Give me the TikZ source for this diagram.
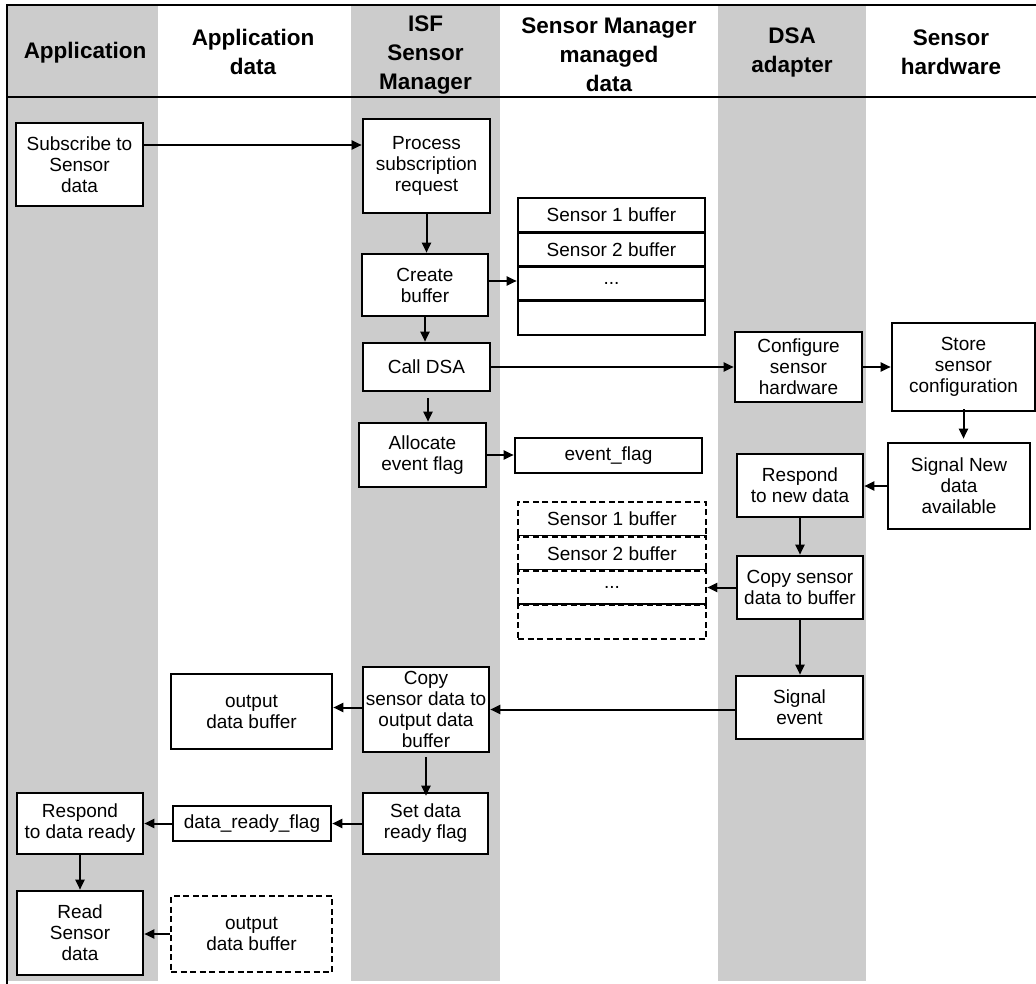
\documentclass[tikz,border=0pt]{standalone}
\usepackage{fontspec}
\setmainfont{Liberation Sans}
\usetikzlibrary{arrows.meta}
\definecolor{lanegrey}{HTML}{CCCCCC}

\begin{document}
\begin{tikzpicture}[x=1pt,y=-1pt,
  box/.style 2 args={draw, line width=2.6pt, fill=white, inner sep=0pt, align=center,
    minimum width=#1pt, minimum height=#2pt, font=\fontsize{19}{21}\selectfont},
  dbox/.style 2 args={box={#1}{#2}, dash pattern=on 6pt off 3.5pt},
  hdr/.style={align=center, font=\fontsize{22.5}{29}\selectfont\bfseries},
  arr/.style={line width=2pt, -{Triangle[length=10pt,width=9pt]}},
  rule/.style={line width=2.2pt}]

\useasboundingbox (0,0) rectangle (1036,984);
\fill[white] (0,0) rectangle (1036,984);

% swim lanes
\fill[lanegrey] (7,5) rectangle (158,981);
\fill[lanegrey] (351,5) rectangle (500,981);
\fill[lanegrey] (718,5) rectangle (866,981);

% frame and header rule
\draw[rule] (7,984) -- (7,5) -- (1036,5);
\draw[rule] (7,97) -- (1036,97);

% lane headers
\node[hdr] (h1) at (85,53) {Application};
\node[hdr] (h2) at (253,52) {Application\\data};
\node[hdr] (h3) at (425.5,55) {ISF\\Sensor\\Manager};
\node[hdr] (h4) at (609,55) {Sensor Manager\\managed\\data};
\node[hdr] (h5) at (792,52) {DSA\\adapter};
\node[hdr] (h6) at (951,52) {Sensor\\hardware};

% Application
\node[box={127}{83}] (sub) at (79.5,164.5) {Subscribe to\\Sensor\\data};
\node[box={126}{61}] (respdr) at (80,823.5) {Respond\\to data ready};
\node[box={126}{84}] (read) at (80,933) {Read\\Sensor\\data};

% Application data
\node[box={161}{75}] (outbuf) at (251.5,711.5) {output\\data buffer};
\node[box={158}{35}] (drf) at (252,823.5) {data\_ready\_flag};
\node[dbox={161}{76}] (dob) at (251.5,934) {output\\data buffer};

% ISF Sensor Manager
\node[box={127}{94}] (proc) at (426.5,166) {Process\\subscription\\request};
\node[box={126}{62}] (create) at (425,285) {Create\\buffer};
\node[box={127}{48}] (call) at (426.5,367) {Call DSA};
\node[box={127}{64}] (alloc) at (422.5,455) {Allocate\\event flag};
\node[box={126}{85}] (copyout) at (426,709.5) {Copy\\sensor data to\\output data\\buffer};
\node[box={125}{61}] (set) at (425.5,823.5) {Set data\\ready flag};

% Sensor Manager managed data
\node[box={187}{34.25}] (sb1) at (611.5,215.1) {Sensor 1 buffer};
\node[box={187}{34.25}] (sb2) at (611.5,249.4) {Sensor 2 buffer};
\node[box={187}{34.25}] (sb3) at (611.5,283.6) {...};
\node[box={187}{34.25}] (sb4) at (611.5,317.9) {};
\node[box={187}{35}] (eflag) at (608.5,455.5) {event\_flag};
\node[dbox={188}{34.25}] (db1) at (612,519.1) {Sensor 1 buffer};
\node[dbox={188}{34.25}] (db2) at (612,553.4) {Sensor 2 buffer};
\node[dbox={188}{34.25}] (db3) at (612,587.6) {...};
\node[dbox={188}{34.25}] (db4) at (612,621.9) {};

% DSA adapter
\node[box={127}{70}] (conf) at (798.5,367) {Configure\\sensor\\hardware};
\node[box={126}{63}] (resp) at (800,485.5) {Respond\\to new data};
\node[box={126}{63}] (copy) at (800,587.5) {Copy sensor\\data to buffer};
\node[box={127}{63}] (sigev) at (799.5,707.5) {Signal\\event};

% Sensor hardware
\node[box={143}{88}] (store) at (963.5,367) {Store\\sensor\\configuration};
\node[box={142}{86}] (signew) at (959,486) {Signal New\\data\\available};

% connectors
\draw[arr] ([yshift=19.5pt]sub.east) -- ([yshift=19.5pt]sub.east -| proc.west);
\draw[arr] (proc.south) -- (proc.south |- create.north);
\draw[arr] ([yshift=4pt]create.east) -- ([yshift=4pt]create.east -| sb3.west);
\draw[arr] (create.south) -- (create.south |- call.north);
\draw[arr] (call.east) -- (conf.west);
\draw[arr] ([xshift=1.5pt,yshift=-6pt]call.south) -- ([xshift=1.5pt]call.south |- alloc.north);
\draw[arr] (alloc.east) -- (alloc.east -| eflag.west);
\draw[arr] (conf.east) -- (store.west);
\draw[arr] ([yshift=3pt]store.south) -- ([yshift=3pt]store.south |- signew.north);
\draw[arr] (signew.west) -- (signew.west -| resp.east);
\draw[arr] (resp.south) -- (copy.north);
\draw[arr] (copy.west) -- (copy.west -| db3.east);
\draw[arr] (copy.south) -- (copy.south |- sigev.north);
\draw[arr] ([yshift=-2pt]sigev.west) -- ([yshift=-2pt]sigev.west -| copyout.east);
\draw[arr] ([yshift=2pt]copyout.west) -- ([yshift=2pt]copyout.west -| outbuf.east);
\draw[arr] ([yshift=-4pt]copyout.south) -- ([yshift=-4pt]copyout.south |- set.north);
\draw[arr] (set.west) -- (drf.east);
\draw[arr] (drf.west) -- (respdr.east);
\draw[arr] (respdr.south) -- (read.north);
\draw[arr] (dob.west) -- (dob.west -| read.east);

\end{tikzpicture}
\end{document}
